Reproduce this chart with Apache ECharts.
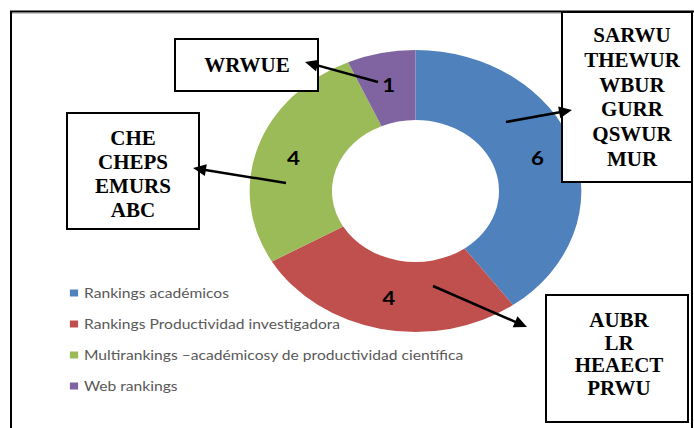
<!DOCTYPE html>
<html><head><meta charset="utf-8">
<script src="https://cdn.jsdelivr.net/npm/echarts@6/dist/echarts.min.js"></script>
<style>
html,body{margin:0;padding:0;background:#fff;overflow:hidden}
#wrap{position:relative;width:694px;height:428px;overflow:hidden;background:#fff}
#pie{position:absolute;left:0;top:0;width:590px;height:428px;transform:scaleX(1.176271);transform-origin:0 0}
#notes{position:absolute;left:0;top:0;width:694px;height:428px}
</style></head><body>
<div id="wrap"><div id="pie"></div><div id="notes"></div></div>
<script>
// ---- data ----
const categories = [
  'Rankings académicos',
  'Rankings Productividad investigadora',
  'Multirankings –académicosy de productividad científica',
  'Web rankings'
];
const counts = [6, 4, 4, 1];
const colors = ['#4F81BD', '#C0504D', '#9BBB59', '#8064A2'];
// annotation boxes: text lines per category
const boxBlue = ['SARWU', 'THEWUR', 'WBUR', 'GURR', 'QSWUR', 'MUR'];
const boxRed = ['AUBR', 'LR', 'HEAECT', 'PRWU'];
const boxGreen = ['CHE', 'CHEPS', 'EMURS', 'ABC'];
const boxPurple = ['WRWUE'];

// ---- pie (original chart image is horizontally stretched) ----
const STRETCH = 694 / 590;
const pieChart = echarts.init(document.getElementById('pie'), null, {renderer: 'svg'});
pieChart.setOption({
  animation: false,
  color: colors,
  legend: {
    orient: 'vertical', left: 54.4, top: 281,
    itemWidth: 7, itemHeight: 7, itemGap: 17, icon: 'rect',
    selectedMode: false,
    textStyle: {fontFamily: 'Lato', fontSize: 13.3, color: '#595959', lineHeight: 14},
    data: categories
  },
  series: [{
    type: 'pie',
    center: [415.5 / STRETCH, 191],
    radius: [71, 141],
    startAngle: 90,
    clockwise: true,
    silent: true,
    label: {show: true, position: 'inside', formatter: '{c}',
      fontFamily: 'Lato', fontWeight: 'bold', fontSize: 19, color: '#000'},
    labelLine: {show: false},
    emphasis: {disabled: true},
    data: categories.map((n, i) => ({name: n, value: counts[i]}))
  }]
});

// ---- annotations (boxes, arrows, frame) ----
const notes = echarts.init(document.getElementById('notes'), null, {renderer: 'svg'});
const g = [];
function line(x1, y1, x2, y2, w, c) {
  g.push({type: 'line', shape: {x1, y1, x2, y2}, style: {stroke: c || '#000', lineWidth: w}});
}
function box(x, y, w, h, lines, cx, cy, lh) {
  g.push({type: 'rect', shape: {x, y, width: w, height: h}, style: {fill: '#fff', stroke: '#000', lineWidth: 2}});
  g.push({type: 'text', style: {text: lines.join('\n'), x: cx, y: cy, align: 'center', verticalAlign: 'middle',
    fontFamily: '"Liberation Serif", "Times New Roman", serif', fontWeight: 'bold', fontSize: 21, lineHeight: lh, fill: '#000'}});
}
function arrow(x1, y1, x2, y2) {
  const dx = x2 - x1, dy = y2 - y1, L = Math.hypot(dx, dy), ux = dx / L, uy = dy / L;
  const hl = 13, hw = 6;
  const bx = x2 - ux * hl, by = y2 - uy * hl;
  line(x1, y1, bx + ux * 2, by + uy * 2, 2.5);
  g.push({type: 'polygon', shape: {points: [[x2, y2], [bx - uy * hw, by + ux * hw], [bx + uy * hw, by - ux * hw]]}, style: {fill: '#000'}});
}
// frame
line(12, 13.5, 692, 13.5, 1, '#c8c8c8');
line(10, 11.5, 694, 11.5, 2);
line(11, 11, 11, 428, 2);
line(692, 11, 692, 428, 2);
// boxes
box(175, 39, 143, 52, boxPurple, 247, 65, 24);
box(67, 113, 132, 116, boxGreen, 133, 173.5, 24);
box(562, 12, 130, 170, boxBlue, 632, 97, 24.8);
box(546, 295, 142, 127, boxRed, 619, 354, 22.7);
// arrows
arrow(378, 82, 305, 62);
arrow(286, 183, 193, 168);
arrow(506, 122, 572, 110);
arrow(433, 286, 527, 327);
notes.setOption({animation: false, graphic: {elements: g}});
</script>
</body></html>
